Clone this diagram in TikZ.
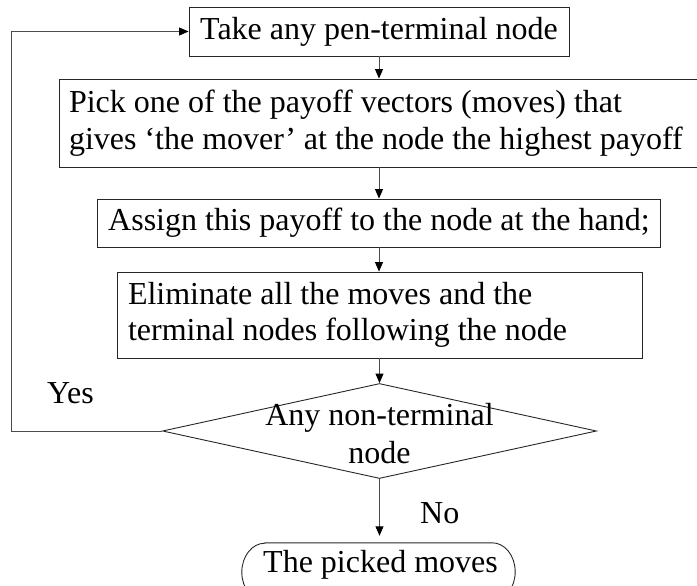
\documentclass[tikz,border=0pt]{standalone}
\usepackage{fontspec}
\setmainfont{Liberation Serif}
\usetikzlibrary{arrows.meta,shapes.geometric}
\begin{document}
\begin{tikzpicture}[x=1pt,y=-1pt,
  every node/.style={font=\fontsize{32}{36.5}\selectfont, inner sep=0pt},
  box/.style={draw=black!85, line width=0.9pt, inner xsep=10pt},
  arr/.style={draw=black!70, line width=0.9pt, -{Triangle[length=9.5pt,width=8pt,fill=black,color=black]}},
  conn/.style={draw=black!85, line width=0.9pt}]
\useasboundingbox (0,0) rectangle (697,586);
% boxes
\node[box, minimum width=380pt, minimum height=49pt] (b1) at (379,31.5) {Take any pen-terminal node};
\node[box, minimum width=640pt, minimum height=88pt, text width=620pt, align=flush left] (b2) at (379,123)
  {Pick one of the payoff vectors (moves) that\\gives `the mover' at the node the highest payoff};
\node[box, minimum width=563pt, minimum height=48pt] (b3) at (379,223) {Assign this payoff to the node at the hand;};
\node[box, minimum width=525pt, minimum height=86pt, text width=503pt, inner xsep=11pt, align=flush left] (b4) at (379.5,315)
  {Eliminate all the moves and the\\terminal nodes following the node};
% decision
\node[diamond, draw=black!85, line width=0.9pt, aspect=4.57, minimum width=434pt, minimum height=95pt] (dec) at (379.5,431) {};
\node[align=center, font=\fontsize{32}{38}\selectfont] (dectxt) at (379.5,434) {Any non-terminal\\node};
% terminal
\node[minimum width=273pt, minimum height=58pt] (fin) at (378.5,572) {};
\draw[conn] ([xshift=23pt]fin.north west) -- ([xshift=-23pt]fin.north east)
  arc[start angle=90, end angle=-90, x radius=23pt, y radius=29pt]
  -- ([xshift=23pt]fin.south west)
  arc[start angle=270, end angle=90, x radius=23pt, y radius=29pt] -- cycle;
\node[anchor=base] (fintxt) at (380.5,572) {The picked moves};
% labels
\node[anchor=base west] (yes) at (47,403) {Yes};
\node[anchor=base west] (no) at (420,523) {No};
% connectors
\coordinate (lp) at (11,431);
\draw[arr] (b1.south) -- (b2.north -| b1.south);
\draw[arr] (b2.south -| b1.south) -- (b3.north);
\draw[arr] (b3.south) -- (b4.north -| b3.south);
\draw[arr] (b4.south -| dec.north) -- (dec.north);
\draw[arr, shorten >=7pt] (dec.south) -- (fin.north -| dec.south);
\draw[arr] (dec.west) -- (lp) |- (b1.west);
\end{tikzpicture}
\end{document}
